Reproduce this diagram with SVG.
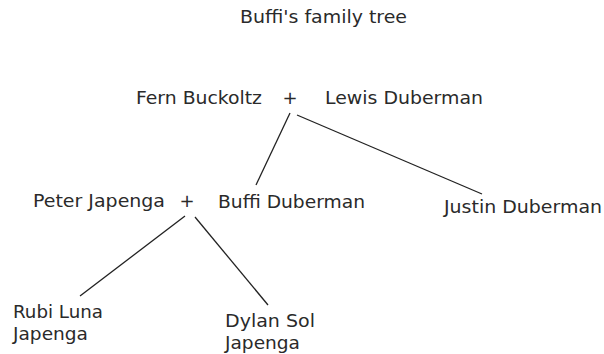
<svg xmlns="http://www.w3.org/2000/svg" width="604" height="354" viewBox="0 0 604 354">
<style>
text{font-family:"DejaVu Sans","Verdana",sans-serif;font-size:18px;fill:#2a2a2a}
.plus{text-anchor:middle}
.conn line{stroke:#222;stroke-width:1.3;fill:none}
</style>
<rect width="604" height="354" fill="#fff"/>
<g id="title"><text x="240" y="23" textLength="167" lengthAdjust="spacingAndGlyphs">Buffi's family tree</text></g>
<g id="fern"><text x="136" y="104" textLength="126" lengthAdjust="spacingAndGlyphs">Fern Buckoltz</text></g>
<g id="union1"><text class="plus" x="290" y="104">+</text></g>
<g id="lewis"><text x="325" y="104" textLength="158" lengthAdjust="spacingAndGlyphs">Lewis Duberman</text></g>
<g id="peter"><text x="33" y="207" textLength="132" lengthAdjust="spacingAndGlyphs">Peter Japenga</text></g>
<g id="union2"><text class="plus" x="187" y="207">+</text></g>
<g id="buffi"><text x="218" y="208" textLength="147" lengthAdjust="spacingAndGlyphs">Buffi Duberman</text></g>
<g id="justin"><text x="444" y="213" textLength="158" lengthAdjust="spacingAndGlyphs">Justin Duberman</text></g>
<g id="rubi"><text x="13" y="318" textLength="90" lengthAdjust="spacingAndGlyphs">Rubi Luna</text><text x="13" y="340" textLength="75" lengthAdjust="spacingAndGlyphs">Japenga</text></g>
<g id="dylan"><text x="225" y="327" textLength="90" lengthAdjust="spacingAndGlyphs">Dylan Sol</text><text x="225" y="349" textLength="75" lengthAdjust="spacingAndGlyphs">Japenga</text></g>
<g id="connectors" class="conn">
<line x1="290" y1="113" x2="256" y2="185"/>
<line x1="297" y1="115" x2="482" y2="194"/>
<line x1="185" y1="216" x2="80" y2="296"/>
<line x1="195" y1="217" x2="268" y2="305"/>
</g>
</svg>
